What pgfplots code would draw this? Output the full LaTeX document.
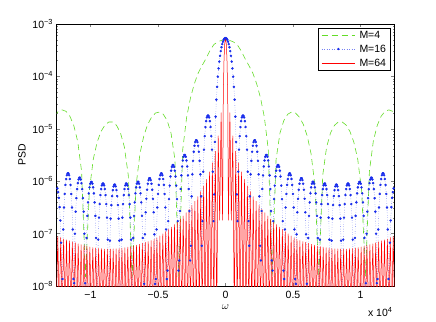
\documentclass[border=0pt]{standalone}
\usepackage{fontspec}
\setmainfont{Liberation Sans}
\usepackage{pgfplots}
\pgfplotsset{compat=1.18}
\definecolor{mgreen}{RGB}{100,220,40}
\definecolor{mblue}{RGB}{25,45,235}
\definecolor{mred}{RGB}{255,0,0}
\begin{document}
\fontsize{10.5bp}{12.6bp}\selectfont
\begin{tikzpicture}[font=\fontsize{10.5bp}{12.6bp}\selectfont]
\useasboundingbox (-56.7bp,-36bp) rectangle (379.3bp,286bp);
\begin{axis}[
  at={(0,0)}, anchor=south west, scale only axis,
  width=337.6bp, height=262bp,
  xmin=-12500, xmax=12500, ymin=1e-8, ymax=1e-3,
  ymode=log,
  axis line style={line width=0.5bp},
  tick align=inside, major tick length=3.4bp, minor tick length=1.8bp,
  tick style={line width=0.5bp},
  xtick={-10000,-5000,0,5000,10000},
  xticklabels={−1,−0.5,0,0.5,1},
  scaled x ticks=false,
  xticklabel style={anchor=base, yshift=-12.5bp, inner sep=0.5bp},
  ytick={1e-8,1e-7,1e-6,1e-5,1e-4,1e-3},
  yticklabels={10\textsuperscript{−8},10\textsuperscript{−7},10\textsuperscript{−6},10\textsuperscript{−5},10\textsuperscript{−4},10\textsuperscript{−3}},
  minor ytick={2e-8,3e-8,4e-8,5e-8,6e-8,7e-8,8e-8,9e-8,
    2e-7,3e-7,4e-7,5e-7,6e-7,7e-7,8e-7,9e-7,
    2e-6,3e-6,4e-6,5e-6,6e-6,7e-6,8e-6,9e-6,
    2e-5,3e-5,4e-5,5e-5,6e-5,7e-5,8e-5,9e-5,
    2e-4,3e-4,4e-4,5e-4,6e-4,7e-4,8e-4,9e-4},
  xlabel={$\omega$},
  xlabel style={at={(axis description cs:0.5,-0.0885)}, anchor=base, inner sep=0.5bp},
  ylabel={PSD},
  ylabel style={at={(axis description cs:-0.0918,0.5)}, anchor=base},
]
% M=4
\addplot[color=mgreen, line width=0.6bp, dash pattern=on 6bp off 4bp, line join=round] coordinates {
(-12672,1.73e-5) (-12384,2.15e-5) (-12096,2.3e-5) (-11808,2.15e-5) (-11520,1.73e-5) (-11232,1.15e-5) (-10944,5.75e-6) (-10656,1.54e-6) (-10368,1.5e-8)
(-10080,6.6e-7) (-9792,2.63e-6) (-9504,5.58e-6) (-9216,8.9e-6) (-8928,1.18e-5) (-8640,1.35e-5) (-8352,1.35e-5) (-8064,1.16e-5) (-7776,8.33e-6) (-7488,4.49e-6) (-7200,1.3e-6) (-6912,1.5e-8)
(-6624,8.2e-7) (-6336,3.35e-6) (-6048,7.35e-6) (-5760,1.22e-5) (-5472,1.67e-5) (-5184,2.0e-5) (-4896,2.09e-5) (-4608,1.9e-5) (-4320,1.44e-5) (-4032,8.27e-6) (-3744,2.57e-6) (-3456,1.5e-8)
(-3168,4.0e-6) (-2880,1.65e-5) (-2592,3.9e-5) (-2304,7.3e-5) (-2016,1.17e-4) (-1728,1.62e-4) (-1440,2.2e-4) (-1152,3.1e-4) (-864,4.05e-4) (-576,4.56e-4) (-288,4.89e-4) (0,5.0e-4)
(288,4.89e-4) (576,4.56e-4) (864,4.05e-4) (1152,3.1e-4) (1440,2.2e-4) (1728,1.62e-4) (2016,1.17e-4) (2304,7.3e-5) (2592,3.9e-5) (2880,1.65e-5) (3168,4.0e-6)
(3456,1.5e-8) (3744,2.57e-6) (4032,8.27e-6) (4320,1.44e-5) (4608,1.9e-5) (4896,2.09e-5) (5184,2.0e-5) (5472,1.67e-5) (5760,1.22e-5) (6048,7.35e-6) (6336,3.35e-6) (6624,8.2e-7)
(6912,1.5e-8) (7200,1.3e-6) (7488,4.49e-6) (7776,8.33e-6) (8064,1.16e-5) (8352,1.35e-5) (8640,1.35e-5) (8928,1.18e-5) (9216,8.9e-6) (9504,5.58e-6) (9792,2.63e-6) (10080,6.6e-7)
(10368,1.5e-8) (10656,1.54e-6) (10944,5.75e-6) (11232,1.15e-5) (11520,1.73e-5) (11808,2.15e-5) (12096,2.3e-5) (12384,2.15e-5) (12672,1.73e-5)
};
% M=16
\addplot[color=mblue, line width=0.4bp, dotted, line join=round, mark=*, mark size=1.05bp, mark options={solid, fill=mblue, draw=none}] coordinates {
(-12555,7.9e-7) (-12501,7.9e-7) (-12447,7.3e-7) (-12393,6.2e-7) (-12339,4.8e-7) (-12285,3.2e-7) (-12231,1.78e-7) (-12177,6.7e-8) (-12123,7.7e-9)
(-12069,1.36e-8) (-12015,1.2e-7) (-11961,3.15e-7) (-11907,5.71e-7) (-11853,8.49e-7) (-11799,1.1e-6) (-11745,1.3e-6) (-11691,1.41e-6) (-11637,1.41e-6) (-11583,1.3e-6) (-11529,1.1e-6) (-11475,8.49e-7) (-11421,5.71e-7) (-11367,3.15e-7) (-11313,1.2e-7) (-11259,1.36e-8)
(-11205,1.13e-8) (-11151,9.95e-8) (-11097,2.62e-7) (-11043,4.74e-7) (-10989,7.06e-7) (-10935,9.18e-7) (-10881,1.08e-6) (-10827,1.17e-6) (-10773,1.17e-6) (-10719,1.08e-6) (-10665,9.18e-7) (-10611,7.06e-7) (-10557,4.74e-7) (-10503,2.62e-7) (-10449,9.95e-8) (-10395,1.13e-8)
(-10341,9.4e-9) (-10287,8.26e-8) (-10233,2.18e-7) (-10179,3.94e-7) (-10125,5.86e-7) (-10071,7.62e-7) (-10017,8.97e-7) (-9963,9.7e-7) (-9909,9.7e-7) (-9855,8.97e-7) (-9801,7.62e-7) (-9747,5.86e-7) (-9693,3.94e-7) (-9639,2.18e-7) (-9585,8.26e-8) (-9531,9.4e-9)
(-9477,8.7e-9) (-9423,7.67e-8) (-9369,2.02e-7) (-9315,3.66e-7) (-9261,5.44e-7) (-9207,7.08e-7) (-9153,8.33e-7) (-9099,9.01e-7) (-9045,9.01e-7) (-8991,8.33e-7) (-8937,7.08e-7) (-8883,5.44e-7) (-8829,3.66e-7) (-8775,2.02e-7) (-8721,7.67e-8) (-8667,8.7e-9)
(-8613,8.4e-9) (-8559,7.33e-8) (-8505,1.93e-7) (-8451,3.5e-7) (-8397,5.2e-7) (-8343,6.77e-7) (-8289,7.96e-7) (-8235,8.61e-7) (-8181,8.61e-7) (-8127,7.96e-7) (-8073,6.77e-7) (-8019,5.2e-7) (-7965,3.5e-7) (-7911,1.93e-7) (-7857,7.33e-8) (-7803,8.4e-9)
(-7749,8.7e-9) (-7695,7.67e-8) (-7641,2.02e-7) (-7587,3.66e-7) (-7533,5.44e-7) (-7479,7.08e-7) (-7425,8.33e-7) (-7371,9.01e-7) (-7317,9.01e-7) (-7263,8.33e-7) (-7209,7.08e-7) (-7155,5.44e-7) (-7101,3.66e-7) (-7047,2.02e-7) (-6993,7.67e-8) (-6939,8.7e-9)
(-6885,9.4e-9) (-6831,8.26e-8) (-6777,2.18e-7) (-6723,3.94e-7) (-6669,5.86e-7) (-6615,7.62e-7) (-6561,8.97e-7) (-6507,9.7e-7) (-6453,9.7e-7) (-6399,8.97e-7) (-6345,7.62e-7) (-6291,5.86e-7) (-6237,3.94e-7) (-6183,2.18e-7) (-6129,8.26e-8) (-6075,9.4e-9)
(-6021,1.1e-8) (-5967,9.69e-8) (-5913,2.55e-7) (-5859,4.62e-7) (-5805,6.88e-7) (-5751,8.95e-7) (-5697,1.05e-6) (-5643,1.14e-6) (-5589,1.14e-6) (-5535,1.05e-6) (-5481,8.95e-7) (-5427,6.88e-7) (-5373,4.62e-7) (-5319,2.55e-7) (-5265,9.69e-8) (-5211,1.1e-8)
(-5157,1.36e-8) (-5103,1.2e-7) (-5049,3.15e-7) (-4995,5.71e-7) (-4941,8.49e-7) (-4887,1.1e-6) (-4833,1.3e-6) (-4779,1.41e-6) (-4725,1.41e-6) (-4671,1.3e-6) (-4617,1.1e-6) (-4563,8.49e-7) (-4509,5.71e-7) (-4455,3.15e-7) (-4401,1.2e-7) (-4347,1.36e-8)
(-4293,1.97e-8) (-4239,1.73e-7) (-4185,4.55e-7) (-4131,8.24e-7) (-4077,1.23e-6) (-4023,1.59e-6) (-3969,1.88e-6) (-3915,2.03e-6) (-3861,2.03e-6) (-3807,1.88e-6) (-3753,1.59e-6) (-3699,1.23e-6) (-3645,8.24e-7) (-3591,4.55e-7) (-3537,1.73e-7) (-3483,1.97e-8)
(-3429,3.07e-8) (-3375,2.7e-7) (-3321,7.1e-7) (-3267,1.29e-6) (-3213,1.91e-6) (-3159,2.49e-6) (-3105,2.93e-6) (-3051,3.17e-6) (-2997,3.17e-6) (-2943,2.93e-6) (-2889,2.49e-6) (-2835,1.91e-6) (-2781,1.29e-6) (-2727,7.1e-7) (-2673,2.7e-7) (-2619,3.07e-8)
(-2565,5.86e-8) (-2511,5.14e-7) (-2457,1.35e-6) (-2403,2.45e-6) (-2349,3.65e-6) (-2295,4.75e-6) (-2241,5.58e-6) (-2187,6.04e-6) (-2133,6.04e-6) (-2079,5.58e-6) (-2025,4.75e-6) (-1971,3.65e-6) (-1917,2.45e-6) (-1863,1.35e-6) (-1809,5.14e-7) (-1755,5.86e-8)
(-1701,1.73e-7) (-1647,1.52e-6) (-1593,4.0e-6) (-1539,7.24e-6) (-1485,1.08e-5) (-1431,1.4e-5) (-1377,1.65e-5) (-1323,1.78e-5) (-1269,1.78e-5) (-1215,1.65e-5) (-1161,1.4e-5) (-1107,1.08e-5) (-1053,7.24e-6) (-999,4.0e-6) (-945,1.52e-6) (-891,1.73e-7)
(-837,5.6e-7) (-783,5.62e-6) (-729,1.71e-5) (-675,3.61e-5) (-621,6.33e-5) (-567,9.88e-5) (-513,1.42e-4) (-459,1.92e-4) (-405,2.47e-4) (-351,3.04e-4) (-297,3.6e-4) (-243,4.13e-4) (-189,4.6e-4) (-135,4.98e-4) (-81,5.25e-4) (-27,5.38e-4)
(27,5.38e-4) (81,5.25e-4) (135,4.98e-4) (189,4.6e-4) (243,4.13e-4) (297,3.6e-4) (351,3.04e-4) (405,2.47e-4) (459,1.92e-4) (513,1.42e-4) (567,9.88e-5) (621,6.33e-5) (675,3.61e-5) (729,1.71e-5) (783,5.62e-6) (837,5.6e-7)
(891,1.73e-7) (945,1.52e-6) (999,4.0e-6) (1053,7.24e-6) (1107,1.08e-5) (1161,1.4e-5) (1215,1.65e-5) (1269,1.78e-5) (1323,1.78e-5) (1377,1.65e-5) (1431,1.4e-5) (1485,1.08e-5) (1539,7.24e-6) (1593,4.0e-6) (1647,1.52e-6) (1701,1.73e-7)
(1755,5.86e-8) (1809,5.14e-7) (1863,1.35e-6) (1917,2.45e-6) (1971,3.65e-6) (2025,4.75e-6) (2079,5.58e-6) (2133,6.04e-6) (2187,6.04e-6) (2241,5.58e-6) (2295,4.75e-6) (2349,3.65e-6) (2403,2.45e-6) (2457,1.35e-6) (2511,5.14e-7) (2565,5.86e-8)
(2619,3.07e-8) (2673,2.7e-7) (2727,7.1e-7) (2781,1.29e-6) (2835,1.91e-6) (2889,2.49e-6) (2943,2.93e-6) (2997,3.17e-6) (3051,3.17e-6) (3105,2.93e-6) (3159,2.49e-6) (3213,1.91e-6) (3267,1.29e-6) (3321,7.1e-7) (3375,2.7e-7) (3429,3.07e-8)
(3483,1.97e-8) (3537,1.73e-7) (3591,4.55e-7) (3645,8.24e-7) (3699,1.23e-6) (3753,1.59e-6) (3807,1.88e-6) (3861,2.03e-6) (3915,2.03e-6) (3969,1.88e-6) (4023,1.59e-6) (4077,1.23e-6) (4131,8.24e-7) (4185,4.55e-7) (4239,1.73e-7) (4293,1.97e-8)
(4347,1.36e-8) (4401,1.2e-7) (4455,3.15e-7) (4509,5.71e-7) (4563,8.49e-7) (4617,1.1e-6) (4671,1.3e-6) (4725,1.41e-6) (4779,1.41e-6) (4833,1.3e-6) (4887,1.1e-6) (4941,8.49e-7) (4995,5.71e-7) (5049,3.15e-7) (5103,1.2e-7) (5157,1.36e-8)
(5211,1.1e-8) (5265,9.69e-8) (5319,2.55e-7) (5373,4.62e-7) (5427,6.88e-7) (5481,8.95e-7) (5535,1.05e-6) (5589,1.14e-6) (5643,1.14e-6) (5697,1.05e-6) (5751,8.95e-7) (5805,6.88e-7) (5859,4.62e-7) (5913,2.55e-7) (5967,9.69e-8) (6021,1.1e-8)
(6075,9.4e-9) (6129,8.26e-8) (6183,2.18e-7) (6237,3.94e-7) (6291,5.86e-7) (6345,7.62e-7) (6399,8.97e-7) (6453,9.7e-7) (6507,9.7e-7) (6561,8.97e-7) (6615,7.62e-7) (6669,5.86e-7) (6723,3.94e-7) (6777,2.18e-7) (6831,8.26e-8) (6885,9.4e-9)
(6939,8.7e-9) (6993,7.67e-8) (7047,2.02e-7) (7101,3.66e-7) (7155,5.44e-7) (7209,7.08e-7) (7263,8.33e-7) (7317,9.01e-7) (7371,9.01e-7) (7425,8.33e-7) (7479,7.08e-7) (7533,5.44e-7) (7587,3.66e-7) (7641,2.02e-7) (7695,7.67e-8) (7749,8.7e-9)
(7803,8.4e-9) (7857,7.33e-8) (7911,1.93e-7) (7965,3.5e-7) (8019,5.2e-7) (8073,6.77e-7) (8127,7.96e-7) (8181,8.61e-7) (8235,8.61e-7) (8289,7.96e-7) (8343,6.77e-7) (8397,5.2e-7) (8451,3.5e-7) (8505,1.93e-7) (8559,7.33e-8) (8613,8.4e-9)
(8667,8.7e-9) (8721,7.67e-8) (8775,2.02e-7) (8829,3.66e-7) (8883,5.44e-7) (8937,7.08e-7) (8991,8.33e-7) (9045,9.01e-7) (9099,9.01e-7) (9153,8.33e-7) (9207,7.08e-7) (9261,5.44e-7) (9315,3.66e-7) (9369,2.02e-7) (9423,7.67e-8) (9477,8.7e-9)
(9531,9.4e-9) (9585,8.26e-8) (9639,2.18e-7) (9693,3.94e-7) (9747,5.86e-7) (9801,7.62e-7) (9855,8.97e-7) (9909,9.7e-7) (9963,9.7e-7) (10017,8.97e-7) (10071,7.62e-7) (10125,5.86e-7) (10179,3.94e-7) (10233,2.18e-7) (10287,8.26e-8) (10341,9.4e-9)
(10395,1.13e-8) (10449,9.95e-8) (10503,2.62e-7) (10557,4.74e-7) (10611,7.06e-7) (10665,9.18e-7) (10719,1.08e-6) (10773,1.17e-6) (10827,1.17e-6) (10881,1.08e-6) (10935,9.18e-7) (10989,7.06e-7) (11043,4.74e-7) (11097,2.62e-7) (11151,9.95e-8) (11205,1.13e-8)
(11259,1.36e-8) (11313,1.2e-7) (11367,3.15e-7) (11421,5.71e-7) (11475,8.49e-7) (11529,1.1e-6) (11583,1.3e-6) (11637,1.41e-6) (11691,1.41e-6) (11745,1.3e-6) (11799,1.1e-6) (11853,8.49e-7) (11907,5.71e-7) (11961,3.15e-7) (12015,1.2e-7) (12069,1.36e-8)
(12123,7.7e-9) (12177,6.7e-8) (12231,1.78e-7) (12285,3.2e-7) (12339,4.8e-7) (12393,6.2e-7) (12447,7.3e-7) (12501,7.9e-7) (12555,7.9e-7)
};
% M=64
\addplot[color=mred, line width=0.5bp, line join=round] coordinates {
(-12636,9.2e-8) (-12528,3e-9) (-12420,8.88e-8) (-12312,3e-9) (-12204,8.41e-8) (-12096,3e-9) (-11988,7.88e-8) (-11880,3e-9) (-11772,7.62e-8) (-11664,3e-9) (-11556,7.3e-8)
(-11448,3e-9) (-11340,6.99e-8) (-11232,3e-9) (-11124,6.69e-8) (-11016,3e-9) (-10908,6.37e-8) (-10800,3e-9) (-10692,6.16e-8) (-10584,3e-9) (-10476,5.95e-8)
(-10368,3e-9) (-10260,5.75e-8) (-10152,3e-9) (-10044,5.56e-8) (-9936,3e-9) (-9828,5.41e-8) (-9720,3e-9) (-9612,5.32e-8) (-9504,3e-9) (-9396,5.22e-8)
(-9288,3e-9) (-9180,5.15e-8) (-9072,3e-9) (-8964,5.07e-8) (-8856,3e-9) (-8748,5.07e-8) (-8640,3e-9) (-8532,5.08e-8) (-8424,3e-9) (-8316,5.1e-8)
(-8208,3e-9) (-8100,5.14e-8) (-7992,3e-9) (-7884,5.2e-8) (-7776,3e-9) (-7668,5.28e-8) (-7560,3e-9) (-7452,5.39e-8) (-7344,3e-9) (-7236,5.51e-8)
(-7128,3e-9) (-7020,5.65e-8) (-6912,3e-9) (-6804,5.83e-8) (-6696,3e-9) (-6588,6.03e-8) (-6480,3e-9) (-6372,6.26e-8) (-6264,3e-9) (-6156,6.52e-8)
(-6048,3e-9) (-5940,6.82e-8) (-5832,3e-9) (-5724,7.06e-8) (-5616,3e-9) (-5508,7.35e-8) (-5400,3e-9) (-5292,7.81e-8) (-5184,3e-9) (-5076,8.33e-8)
(-4968,3e-9) (-4860,9.02e-8) (-4752,3e-9) (-4644,9.88e-8) (-4536,3e-9) (-4428,1.09e-7) (-4320,3e-9) (-4212,1.2e-7) (-4104,3e-9) (-3996,1.33e-7)
(-3888,3e-9) (-3780,1.49e-7) (-3672,3e-9) (-3564,1.68e-7) (-3456,3e-9) (-3348,1.9e-7) (-3240,3e-9) (-3132,2.17e-7) (-3024,3e-9) (-2916,2.51e-7)
(-2808,3e-9) (-2700,2.92e-7) (-2592,3e-9) (-2484,3.45e-7) (-2376,3e-9) (-2268,4.14e-7) (-2160,3e-9) (-2052,5.06e-7) (-1944,3e-9) (-1836,6.32e-7)
(-1728,3e-9) (-1620,8.12e-7) (-1512,3e-9) (-1404,1.08e-6) (-1296,3e-9) (-1188,1.51e-6) (-1080,3e-9) (-972,2.25e-6) (-864,3e-9) (-756,3.73e-6)
(-648,3e-9) (-540,7.31e-6) (-432,1.8e-7) (-324,2.03e-5) (-216,1.8e-7) (-162,4.8e-5) (-108,2.15e-4) (-54,4.3e-4) (0,5.3e-4)
(54,4.3e-4) (108,2.15e-4) (162,4.8e-5) (216,1.8e-7) (324,2.03e-5) (432,1.8e-7) (540,7.31e-6) (648,3e-9)
(756,3.73e-6) (864,3e-9) (972,2.25e-6) (1080,3e-9) (1188,1.51e-6) (1296,3e-9) (1404,1.08e-6) (1512,3e-9) (1620,8.12e-7) (1728,3e-9)
(1836,6.32e-7) (1944,3e-9) (2052,5.06e-7) (2160,3e-9) (2268,4.14e-7) (2376,3e-9) (2484,3.45e-7) (2592,3e-9) (2700,2.92e-7) (2808,3e-9)
(2916,2.51e-7) (3024,3e-9) (3132,2.17e-7) (3240,3e-9) (3348,1.9e-7) (3456,3e-9) (3564,1.68e-7) (3672,3e-9) (3780,1.49e-7) (3888,3e-9)
(3996,1.33e-7) (4104,3e-9) (4212,1.2e-7) (4320,3e-9) (4428,1.09e-7) (4536,3e-9) (4644,9.88e-8) (4752,3e-9) (4860,9.02e-8) (4968,3e-9)
(5076,8.33e-8) (5184,3e-9) (5292,7.81e-8) (5400,3e-9) (5508,7.35e-8) (5616,3e-9) (5724,7.06e-8) (5832,3e-9) (5940,6.82e-8) (6048,3e-9)
(6156,6.52e-8) (6264,3e-9) (6372,6.26e-8) (6480,3e-9) (6588,6.03e-8) (6696,3e-9) (6804,5.83e-8) (6912,3e-9) (7020,5.65e-8) (7128,3e-9)
(7236,5.51e-8) (7344,3e-9) (7452,5.39e-8) (7560,3e-9) (7668,5.28e-8) (7776,3e-9) (7884,5.2e-8) (7992,3e-9) (8100,5.14e-8) (8208,3e-9)
(8316,5.1e-8) (8424,3e-9) (8532,5.08e-8) (8640,3e-9) (8748,5.07e-8) (8856,3e-9) (8964,5.07e-8) (9072,3e-9) (9180,5.15e-8) (9288,3e-9)
(9396,5.22e-8) (9504,3e-9) (9612,5.32e-8) (9720,3e-9) (9828,5.41e-8) (9936,3e-9) (10044,5.56e-8) (10152,3e-9) (10260,5.75e-8) (10368,3e-9)
(10476,5.95e-8) (10584,3e-9) (10692,6.16e-8) (10800,3e-9) (10908,6.37e-8) (11016,3e-9) (11124,6.69e-8) (11232,3e-9) (11340,6.99e-8) (11448,3e-9)
(11556,7.3e-8) (11664,3e-9) (11772,7.62e-8) (11880,3e-9) (11988,7.88e-8) (12096,3e-9) (12204,8.41e-8) (12312,3e-9) (12420,8.88e-8) (12528,3e-9) (12636,9.2e-8)
};
\end{axis}
% legend box, drawn after the axis so it sits on top
\draw[line width=0.5bp, fill=white] (261.6bp,216bp) rectangle (333.3bp,258bp);
\draw[mgreen, line width=0.6bp, dash pattern=on 6bp off 4bp] (265bp,251bp) -- (298.3bp,251bp);
\draw[mblue!60, line width=0.5bp, dotted] (265bp,237bp) -- (298.3bp,237bp);
\fill[mblue] (281.6bp,237bp) circle (1.3bp);
\draw[mred, line width=0.6bp] (265bp,223bp) -- (298.3bp,223bp);
\node[anchor=base west, inner sep=0pt] at (302.6bp,247.3bp) {M=4};
\node[anchor=base west, inner sep=0pt] at (302.6bp,233.3bp) {M=16};
\node[anchor=base west, inner sep=0pt] at (302.6bp,219.3bp) {M=64};
\node[anchor=base east, inner sep=0pt] at (336bp,-30.7bp) {x 10\textsuperscript{4}};
\end{tikzpicture}
\end{document}
